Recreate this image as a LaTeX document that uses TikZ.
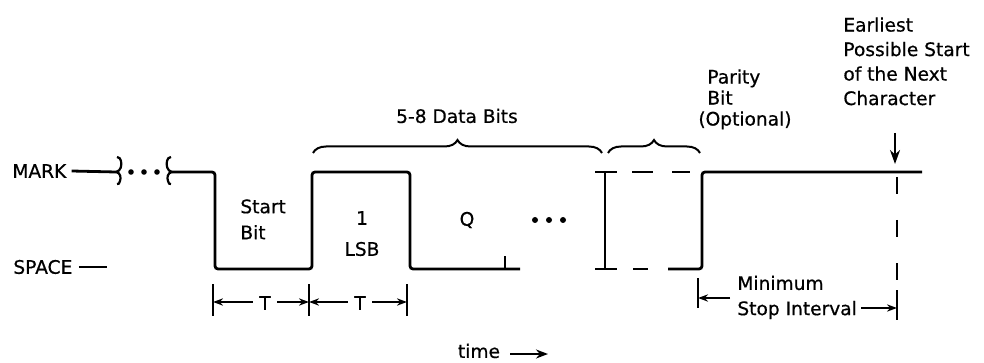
\documentclass[tikz,border=0pt]{standalone}
\usepackage{fontspec}
\setmainfont{DejaVu Sans}[FakeBold=0.6]
\usetikzlibrary{arrows.meta,positioning,calc,decorations.pathreplacing}

\tikzset{
  sig/.style={line width=1.4pt, rounded corners=1.5pt},
  lbl/.style={font=\fontsize{9.3}{10}\selectfont, inner sep=0pt},
  tick/.style={line width=1.2pt},
  dimarr/.style={line width=0.9pt, -{Stealth[length=5pt,width=3.6pt]}},
  brc/.style={line width=1pt, decorate, decoration={brace, amplitude=6.5pt}},
}

\begin{document}
\begin{tikzpicture}[x=0.5pt,y=-0.5pt]
\useasboundingbox (0,0) rectangle (984,363);

% levels
\node[lbl, anchor=west] (mark) at (12,171) {MARK};
\node[lbl, anchor=west] (space) at (13,267) {SPACE};
\draw[line width=1pt] ([xshift=3pt]space.east) -- +(28,0);

% waveform with break
\draw[sig] ([xshift=2.5pt]mark.east) -- (116,172);
\draw[line width=1.1pt] (116,172) .. controls (121,171) and (122,165) .. (121,161) .. controls (120,158) .. (117,157);
\draw[line width=1.1pt] (116,172) .. controls (121,173) and (121,178) .. (120,181) .. controls (119,184) .. (117,184);
\foreach \x in {131,144,157} \fill (\x,172) circle (1.4pt);
\draw[line width=1.1pt] (172,172) .. controls (167,171) and (166,165) .. (167,161) .. controls (168,158) .. (171,157);
\draw[line width=1.1pt] (172,172) .. controls (167,173) and (167,178) .. (168,181) .. controls (169,184) .. (171,184);
\draw[sig] (172,172) -- (215,172) -- (215,269) -- (312,269) -- (312,172)
  -- (410,172) -- (410,269) -- (520,269);
\draw[sig] (505,269) -- (505,256);

% parity bit
\draw[sig] (605,172) -- (605,269);
\draw[sig] (595,172) -- (617,172);
\draw[sig] (595,269) -- (617,269);
\draw[sig, dash pattern=on 10.5pt off 9.5pt] (632,172) -- (690,172);
\draw[sig] (633,269) -- (648,269);
\draw[sig] (668,269) -- (702,269) -- (702,172) -- (922,172);

% next character
\coordinate (nxt) at (897,172);
\draw[line width=1.2pt, dash pattern=on 8.5pt off 13pt] ($(nxt)+(0,5)$) -- ($(nxt)+(0,108)$);
\node[lbl, anchor=north west, align=left, font=\fontsize{9.3}{12.25}\selectfont] (earliest) at (843,17)
  {Earliest\\Possible Start\\of the Next\\Character};
\draw[line width=1.1pt, -{Stealth[length=7pt,width=5pt]}] ($(nxt)+(-2,-39)$) -- ($(nxt)+(-2,-8)$);

% labels in the bits
\node[lbl, anchor=north west, align=left, font=\fontsize{9.3}{13}\selectfont] (start) at (240,199) {Start\\Bit};
\node[lbl] (one) at (362,218) {1};
\node[lbl] (lsb) at (362,249) {LSB};
\node[lbl] (q) at (467,220) {Q};
\foreach \x in {535,549,563} \fill (\x,220) circle (1.5pt);

% braces
\draw[brc] (313,153) -- (602,153);
\node[lbl] (data) at (457,116) {5-8 Data Bits};
\draw[brc] (608,153) -- (700,153);
\node[lbl, anchor=north west, align=left, font=\fontsize{9.3}{10.5}\selectfont] (parity) at (698,69)
  {\hspace{4.5pt}Parity\\\hspace{4.5pt}Bit\\(Optional)};

% bit times
\coordinate (t0) at (213,302);
\coordinate (t1) at (309,302);
\coordinate (t2) at (407,302);
\foreach \c in {t0,t1,t2} \draw[tick] ($(\c)+(0,-18)$) -- ($(\c)+(0,14)$);
\node[lbl] (T1) at (265,303) {T};
\node[lbl] (T2) at (360,303) {T};
\draw[dimarr] ([xshift=-3pt]T1.west |- t0) -- (t0);
\draw[dimarr] ([xshift=3pt]T1.east |- t1) -- (t1);
\draw[dimarr] ([xshift=-3pt]T2.west |- t1) -- (t1);
\draw[dimarr] ([xshift=3pt]T2.east |- t2) -- (t2);

% stop interval
\coordinate (s0) at (698,298);
\coordinate (s1) at (897,308);
\draw[tick] ($(s0)+(0,-20)$) -- ($(s0)+(0,10)$);
\draw[tick] ($(s1)+(0,-18)$) -- ($(s1)+(0,12)$);
\node[lbl, anchor=west] (minimum) at (737,283) {Minimum};
\node[lbl, anchor=west] (stopint) at (737,310) {Stop Interval};
\draw[dimarr] ($(minimum.west |- s0)+(-7,0)$) -- (s0);
\draw[dimarr] ($(stopint.east |- s1)+(4,0)$) -- (s1);

% time axis
\node[lbl] (time) at (479,351) {time};
\coordinate (tend) at (548,354);
\draw[line width=1pt, -{Stealth[length=6pt,width=4.5pt]}] ([xshift=5pt]time.east |- tend) -- (tend);
\end{tikzpicture}
\end{document}
